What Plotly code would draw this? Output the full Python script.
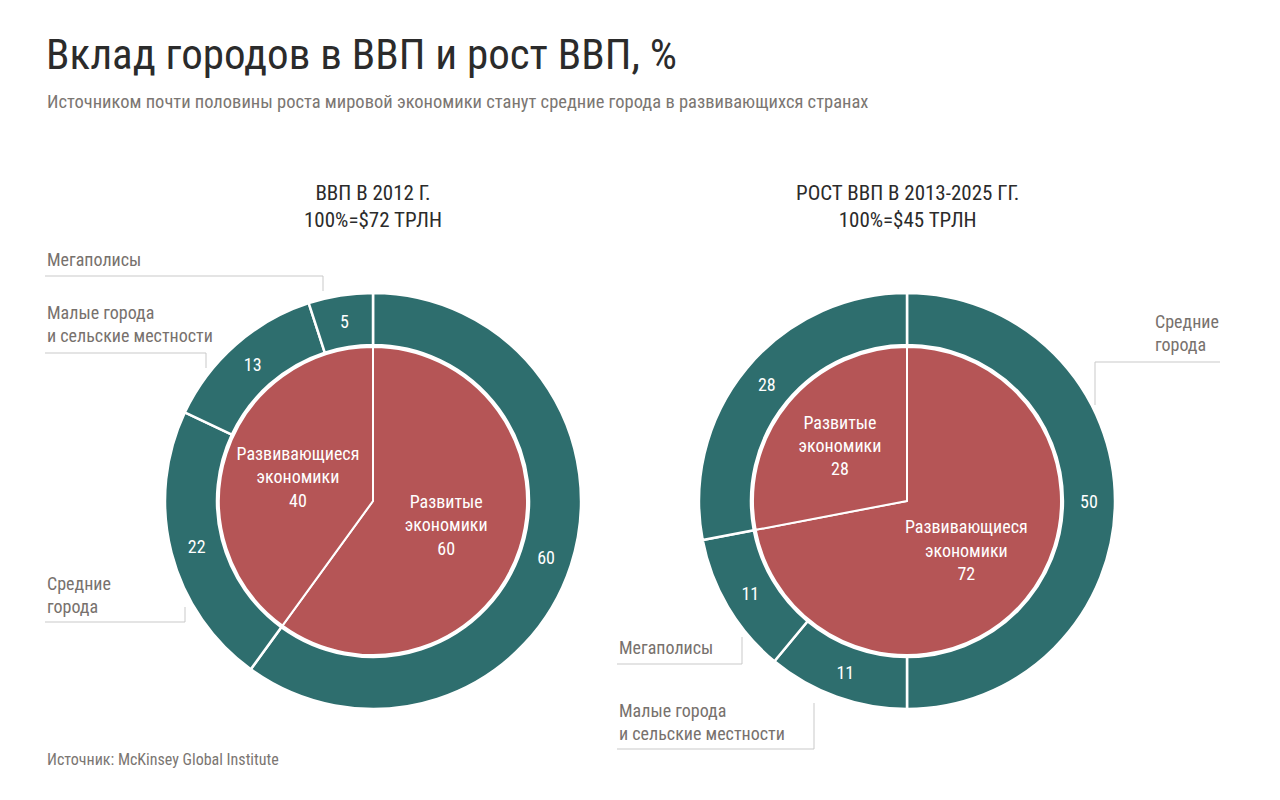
import plotly.graph_objects as go

# data
gdp2012_groups = ['Развитые экономики', 'Развивающиеся экономики']
gdp2012_shares = [60, 40]
gdp2012_cities = ['Развитые', 'Средние города', 'Малые города и сельские местности', 'Мегаполисы']
gdp2012_city_shares = [60, 22, 13, 5]

growth_groups = ['Развивающиеся экономики', 'Развитые экономики']
growth_shares = [72, 28]
growth_cities = ['Средние города', 'Малые города и сельские местности', 'Мегаполисы', 'Развитые']
growth_city_shares = [50, 11, 11, 28]

TEAL = '#2e6e6e'
RED = '#b55556'
FONT = 'Roboto Condensed, Liberation Sans Narrow, Roboto, sans-serif'
W, H = 1280, 800


def px_x(x):
    return x / W


def px_y(y):
    return 1 - y / H


def dom(cx, cy, r):
    return dict(x=[px_x(cx - r), px_x(cx + r)], y=[px_y(cy + r), px_y(cy - r)])


def inner_text(labels, vals):
    out = []
    for lab, v in zip(labels, vals):
        a, b = lab.split(' ')
        out.append('%s<br>%s<br>%d' % (a, b, v))
    return out


fig = go.Figure()

charts = [
    (373, gdp2012_cities, gdp2012_city_shares, gdp2012_groups, gdp2012_shares),
    (907, growth_cities, growth_city_shares, growth_groups, growth_shares),
]
R_OUT, R_IN = 208, 154
for cx, cities, cvals, groups, gvals in charts:
    fig.add_trace(go.Pie(
        labels=cities, values=cvals, text=[str(v) for v in cvals],
        textinfo='text', textposition='inside', insidetextorientation='horizontal',
        sort=False, direction='clockwise', rotation=0, hole=156 / R_OUT,
        marker=dict(colors=[TEAL] * len(cvals), line=dict(color='white', width=2.5)),
        textfont=dict(family=FONT, size=18, color='white'),
        domain=dom(cx, 501, R_OUT), showlegend=False, hoverinfo='label+value',
    ))
    fig.add_trace(go.Pie(
        labels=groups, values=gvals, text=inner_text(groups, gvals),
        textinfo='text', textposition='inside', insidetextorientation='horizontal',
        sort=False, direction='clockwise', rotation=0,
        marker=dict(colors=[RED] * len(gvals), line=dict(color='white', width=2)),
        textfont=dict(family=FONT, size=18, color='white'),
        domain=dom(cx, 501, R_IN), showlegend=False, hoverinfo='label+value',
    ))

annotations = [
    dict(x=px_x(44), y=px_y(54), text='Вклад городов в ВВП и рост ВВП, %',
         font=dict(size=43, color='#2b2b2b')),
    dict(x=px_x(45), y=px_y(102), text='Источником почти половины роста мировой экономики станут средние города в развивающихся странах',
         font=dict(size=18.5, color='#7b7672')),
    dict(x=px_x(45), y=px_y(759), text='Источник: McKinsey Global Institute',
         font=dict(size=16, color='#7b7672')),
    # labels
    dict(x=px_x(45), y=px_y(260), text='Мегаполисы'),
    dict(x=px_x(45), y=px_y(324), text='Малые города<br>и сельские местности'),
    dict(x=px_x(45), y=px_y(595), text='Средние<br>города'),
    dict(x=px_x(1153), y=px_y(333), text='Средние<br>города'),
    dict(x=px_x(617), y=px_y(647), text='Мегаполисы'),
    dict(x=px_x(617), y=px_y(722), text='Малые города<br>и сельские местности'),
]
for a in annotations:
    a.setdefault('font', dict(size=18, color='#77716d'))
    a['font']['family'] = FONT
    fig.add_annotation(xref='paper', yref='paper', xanchor='left', yanchor='middle',
                       align='left', showarrow=False, **a)

for cx, t1, t2 in [(373, 'ВВП В 2012 Г.', '100%=$72 ТРЛН'),
                   (907, 'РОСТ ВВП В 2013-2025 ГГ.', '100%=$45 ТРЛН')]:
    fig.add_annotation(xref='paper', yref='paper', x=px_x(cx), y=px_y(206),
                       xanchor='center', yanchor='middle', align='center', showarrow=False,
                       text=t1 + '<br>' + t2, font=dict(family=FONT, size=21, color='#2b2b2b'))

# connector lines
connectors = [
    [(45, 276), (323, 276), (323, 291)],
    [(45, 353), (206, 353), (206, 368)],
    [(45, 622), (185, 622), (185, 607)],
    [(1220, 362), (1095, 362), (1095, 405)],
    [(617, 664), (742, 664), (742, 637)],
    [(617, 749), (814, 749), (814, 703)],
]
for pts in connectors:
    for (x0, y0), (x1, y1) in zip(pts[:-1], pts[1:]):
        fig.add_shape(type='line', xref='paper', yref='paper',
                      x0=px_x(x0), y0=px_y(y0), x1=px_x(x1), y1=px_y(y1),
                      line=dict(color='#c9c9c9', width=1))

fig.update_layout(width=W, height=H, margin=dict(l=0, r=0, t=0, b=0),
                  paper_bgcolor='white', plot_bgcolor='white',
                  font=dict(family=FONT))

fig.write_html("out.html", config={'displayModeBar': False},
               post_script="document.body.style.margin='0';")
